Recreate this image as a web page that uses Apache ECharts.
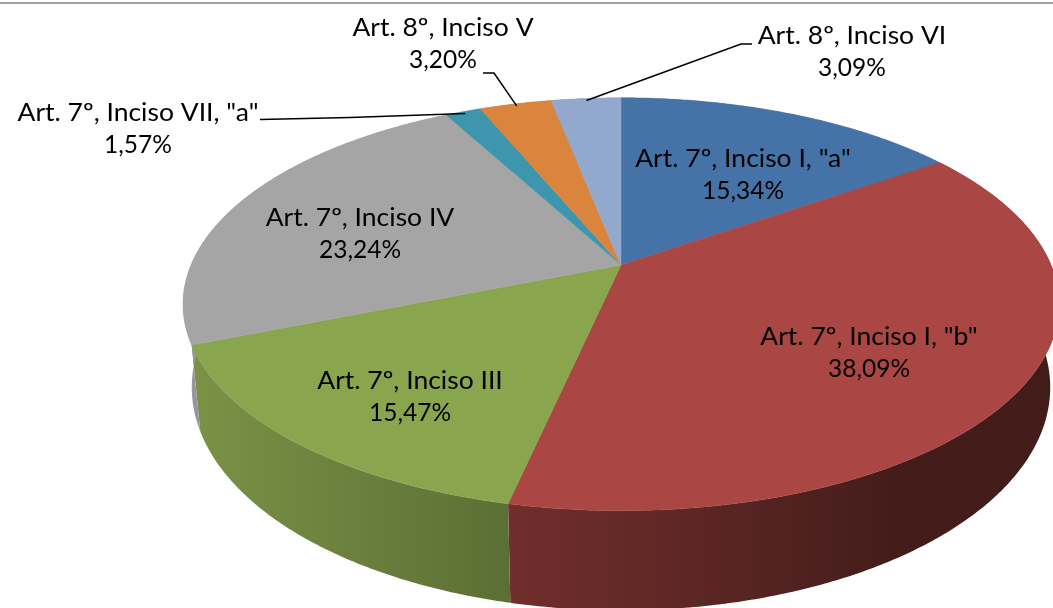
<!DOCTYPE html>
<html>
<head>
<meta charset="utf-8">
<title>Art. 7º / Art. 8º</title>
<style>
html, body { margin: 0; padding: 0; background: #fff; }
#echart1 { width: 1053px; height: 608px; }
</style>
<script src="https://cdn.jsdelivr.net/npm/echarts@6/dist/echarts.min.js"></script>
</head>
<body>
<div id="echart1"></div>
<script>
var categories = ['Art. 7º, Inciso I, "a"', 'Art. 7º, Inciso I, "b"', 'Art. 7º, Inciso III', 'Art. 7º, Inciso IV', 'Art. 7º, Inciso VII, "a"', 'Art. 8º, Inciso V', 'Art. 8º, Inciso VI'];
var values = [15.34, 38.09, 15.47, 23.24, 1.57, 3.20, 3.09];
var colors = ['#4572A7', '#AA4643', '#89A54E', '#A5A5A5', '#3D96AE', '#DB843D', '#92A8CD'];

// label centres, same order as categories
var labelPos = [[743, 175], [869, 353], [410, 397], [360, 234], [138, 129], [443, 44], [852, 52]];
// elbows of the leader lines: [start of line, elbow]
var leaders = { 4: [[260, 119.5], [350, 117.5]], 5: [[483, 73], [494, 73]], 6: [[752, 44], [741, 44]] };

// perspective of the pie plane
var cx = 621, cy = 265, rx = 430, ry = 199, persp = 0.19;

function project(frac, r) {
    var t = frac * Math.PI * 2;
    var u = Math.sin(t) * r, v = Math.cos(t) * r;
    var w = 1 + persp * v;
    return [cx + rx * u / w, cy - ry * v / w];
}
// same point on the bottom rim of the cylinder
function lower(p) {
    return [cx + (p[0] - cx) * 0.98, cy + (p[1] - cy) * 1.08 + 80];
}
function arc(from, to) {
    var pts = [], n = Math.max(2, Math.ceil((to - from) * 720));
    for (var i = 0; i <= n; i++) {
        pts.push(project(from + (to - from) * i / n, 1));
    }
    return pts;
}

// fractions of the circle, clockwise from the top
var total = values.reduce(function (a, b) { return a + b; }, 0);
var acc = 0;
var slices = values.map(function (v, i) {
    var s = acc / total;
    acc += v;
    return [s, acc / total, i];
});

function sideFill(i) {
    var LG = echarts.graphic.LinearGradient;
    if (i == 1) {
        return new LG(510, 0, 1053, 0, [
            { offset: 0, color: '#702e2c' },
            { offset: 0.35, color: '#5c2624' },
            { offset: 0.7, color: '#441d1a' },
            { offset: 1, color: '#421c19' }
        ], true);
    }
    if (i == 2) {
        return new LG(190, 0, 510, 0, [
            { offset: 0, color: '#7b9246' },
            { offset: 1, color: '#5b6f35' }
        ], true);
    }
    return '#96969b';
}

function textLine(str, x, y, size, stretch) {
    return {
        type: 'text',
        x: x,
        y: y,
        scaleX: stretch,
        style: {
            text: str,
            fill: '#000',
            fontFamily: 'Lato',
            fontSize: size,
            align: 'center',
            verticalAlign: 'middle'
        }
    };
}

var myChart = echarts.init(document.getElementById('echart1'));

var option = {
    animation: false,
    backgroundColor: '#fff',
    graphic: [{
        type: 'rect',
        shape: { x: 0, y: 2, width: 1053, height: 2 },
        style: { fill: '#a0a0a0' }
    }],
    series: [
        {   // pie wall
            type: 'custom',
            coordinateSystem: 'none',
            silent: true,
            z: 1,
            data: slices,
            renderItem: function (params, api) {
                var rim = arc(api.value(0), api.value(1));
                var pts = rim.concat(rim.map(lower).reverse());
                return {
                    type: 'polygon',
                    shape: { points: pts },
                    style: { fill: sideFill(api.value(2)) }
                };
            }
        },
        {   // pie top
            type: 'custom',
            coordinateSystem: 'none',
            silent: true,
            z: 2,
            data: slices,
            renderItem: function (params, api) {
                var i = api.value(2);
                return {
                    type: 'polygon',
                    shape: { points: [[cx, cy]].concat(arc(api.value(0), api.value(1))) },
                    style: { fill: colors[i], stroke: colors[i], lineWidth: 0.5 }
                };
            }
        },
        {   // labels and leader lines
            type: 'custom',
            coordinateSystem: 'none',
            silent: true,
            z: 3,
            data: slices,
            renderItem: function (params, api) {
                var i = api.value(2);
                var x = labelPos[i][0], y = labelPos[i][1];
                var kids = [
                    textLine(categories[i], x, y - 16.5, 25, 1.06),
                    textLine(values[i].toFixed(2).replace('.', ',') + '%', x, y + 16.5, 24.5, 1)
                ];
                if (leaders[i]) {
                    kids.push({
                        type: 'polyline',
                        shape: { points: leaders[i].concat([project((api.value(0) + api.value(1)) / 2, 0.985)]) },
                        style: { fill: null, stroke: '#000', lineWidth: 1.5 }
                    });
                }
                return { type: 'group', children: kids };
            }
        }
    ]
};

myChart.setOption(option);
window.addEventListener("resize", function () {
    myChart.resize();
});
</script>
</body>
</html>
